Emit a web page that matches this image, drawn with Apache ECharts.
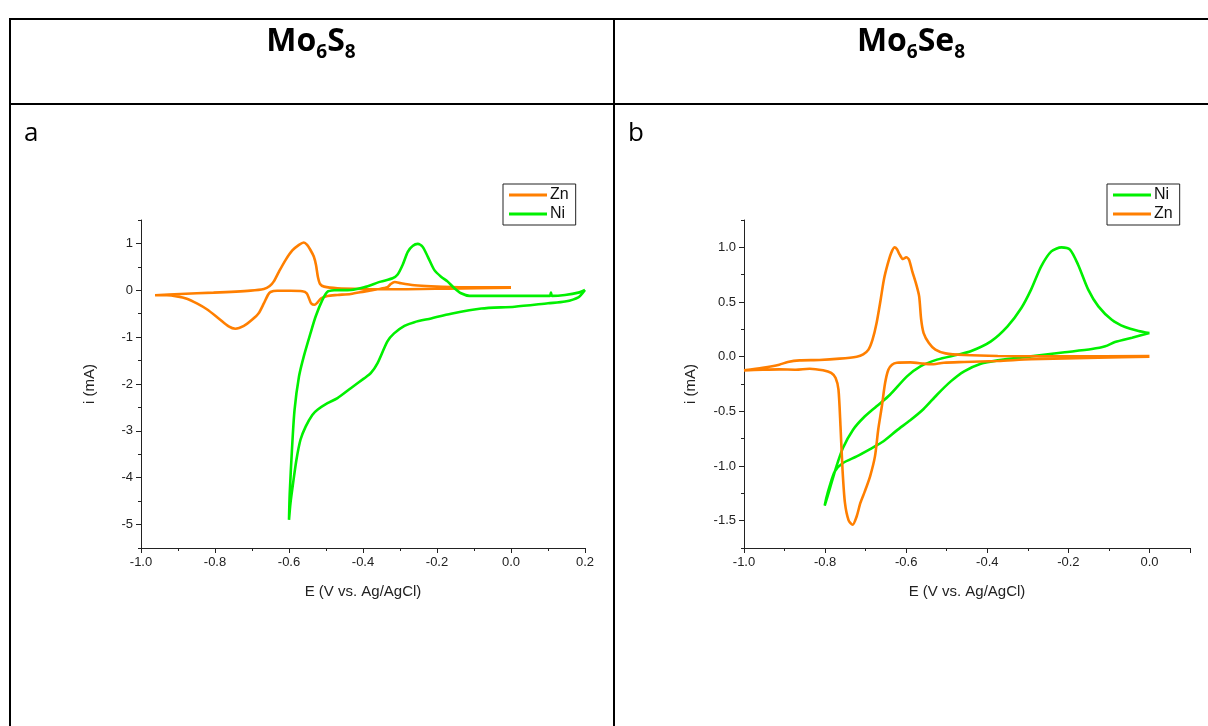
<!DOCTYPE html>
<html><head><meta charset="utf-8">
<script src="https://cdn.jsdelivr.net/npm/echarts@6/dist/echarts.min.js"></script>
<style>html,body{margin:0;padding:0;background:#fff}#c{width:1208px;height:726px}</style>
</head><body><div id="c"></div>
<script>
// Panel a (Mo6S8): [E (V), i (mA)]
const znA = [[0.0,0.064],[-0.126,0.064],[-0.216,0.085],[-0.261,0.107],[-0.297,0.149],[-0.314,0.178],[-0.325,0.135],[-0.334,0.064],[-0.361,0.021],[-0.397,-0.028],[-0.433,-0.078],[-0.469,-0.10],[-0.496,-0.12],[-0.513,-0.17],[-0.523,-0.26],[-0.531,-0.31],[-0.540,-0.28],[-0.546,-0.17],[-0.552,-0.064],[-0.564,-0.02],[-0.596,-0.01],[-0.632,-0.01],[-0.650,-0.036],[-0.657,-0.10],[-0.668,-0.28],[-0.682,-0.49],[-0.700,-0.63],[-0.722,-0.76],[-0.745,-0.82],[-0.763,-0.77],[-0.790,-0.60],[-0.822,-0.405],[-0.849,-0.28],[-0.876,-0.18],[-0.903,-0.13],[-0.930,-0.107],[-0.962,-0.107],
  [-0.894,-0.078],[-0.804,-0.05],[-0.704,-0.007],[-0.668,0.028],[-0.652,0.092],[-0.641,0.19],[-0.627,0.40],[-0.609,0.65],[-0.591,0.85],[-0.573,0.97],[-0.560,1.02],[-0.551,0.97],[-0.542,0.86],[-0.533,0.72],[-0.527,0.54],[-0.522,0.29],[-0.516,0.135],[-0.505,0.078],[-0.469,0.043],[-0.397,0.028],[-0.307,0.021],[-0.171,0.036],[0.0,0.057]];
const niA = [[0.2,0.007],[0.182,-0.15],[0.146,-0.24],[0.1,-0.277],[0.01,-0.35],[-0.08,-0.39],[-0.162,-0.50],[-0.216,-0.60],[-0.261,-0.68],[-0.288,-0.76],[-0.316,-0.92],[-0.334,-1.09],[-0.361,-1.56],[-0.379,-1.77],[-0.397,-1.88],[-0.433,-2.09],[-0.469,-2.30],[-0.496,-2.41],[-0.523,-2.55],[-0.537,-2.66],[-0.555,-2.91],[-0.569,-3.19],[-0.580,-3.62],[-0.589,-4.12],[-0.596,-4.54],[-0.600,-4.90],
  [-0.598,-4.33],[-0.592,-3.40],[-0.585,-2.55],[-0.573,-1.84],[-0.560,-1.41],[-0.542,-0.92],[-0.528,-0.56],[-0.510,-0.21],[-0.496,-0.03],[-0.478,0.0],[-0.433,0.007],[-0.397,0.064],[-0.352,0.185],[-0.320,0.256],[-0.307,0.33],[-0.293,0.54],[-0.279,0.82],[-0.266,0.945],[-0.252,0.99],[-0.239,0.93],[-0.225,0.72],[-0.207,0.43],[-0.189,0.29],[-0.171,0.185],[-0.153,0.043],[-0.135,-0.064],[-0.112,-0.12],[-0.035,-0.12],[0.055,-0.12],[0.105,-0.12],[0.108,-0.05],[0.111,-0.12],[0.146,-0.10],[0.182,-0.05],[0.2,0.007]];
// Panel b (Mo6Se8)
const niB = [[0.0,0.216],[-0.043,0.174],[-0.085,0.134],[-0.109,0.095],[-0.142,0.070],[-0.209,0.040],[-0.292,0.003],[-0.374,-0.034],[-0.416,-0.064],[-0.457,-0.134],[-0.490,-0.226],[-0.524,-0.348],[-0.557,-0.479],[-0.590,-0.582],[-0.623,-0.674],[-0.656,-0.774],[-0.689,-0.845],[-0.722,-0.912],[-0.756,-0.973],[-0.776,-1.049],[-0.789,-1.186],[-0.797,-1.293],[-0.801,-1.363],
  [-0.789,-1.216],[-0.772,-1.003],[-0.756,-0.835],[-0.731,-0.668],[-0.706,-0.561],[-0.673,-0.454],[-0.640,-0.348],[-0.598,-0.180],[-0.565,-0.088],[-0.524,-0.027],[-0.474,0.018],[-0.441,0.049],[-0.391,0.140],[-0.350,0.277],[-0.316,0.445],[-0.292,0.613],[-0.267,0.826],[-0.242,0.963],[-0.217,1.0],[-0.196,0.979],[-0.176,0.841],[-0.151,0.613],[-0.126,0.460],[-0.093,0.338],[-0.060,0.271],[-0.027,0.235],[0.0,0.216]];
const znB = [[0.0,0.0],[-0.126,-0.009],[-0.292,-0.024],[-0.374,-0.040],[-0.457,-0.049],[-0.507,-0.055],[-0.540,-0.070],[-0.557,-0.064],[-0.590,-0.052],[-0.623,-0.055],[-0.635,-0.073],[-0.644,-0.119],[-0.652,-0.241],[-0.660,-0.454],[-0.669,-0.668],[-0.677,-0.912],[-0.689,-1.094],[-0.702,-1.232],[-0.713,-1.338],[-0.722,-1.460],[-0.732,-1.537],[-0.742,-1.497],[-0.751,-1.338],[-0.757,-1.034],[-0.762,-0.637],[-0.767,-0.302],[-0.774,-0.195],[-0.785,-0.149],[-0.805,-0.125],[-0.838,-0.110],[-0.872,-0.119],[-0.913,-0.116],[-0.954,-0.119],[-1.0,-0.125],
  [-0.954,-0.101],[-0.913,-0.073],[-0.892,-0.049],[-0.863,-0.034],[-0.814,-0.030],[-0.764,-0.018],[-0.722,0.0],[-0.706,0.021],[-0.693,0.064],[-0.683,0.155],[-0.673,0.308],[-0.663,0.521],[-0.655,0.704],[-0.646,0.841],[-0.637,0.948],[-0.629,1.0],[-0.623,0.985],[-0.616,0.933],[-0.608,0.893],[-0.600,0.909],[-0.593,0.887],[-0.585,0.780],[-0.575,0.659],[-0.568,0.552],[-0.563,0.338],[-0.557,0.216],[-0.544,0.125],[-0.528,0.064],[-0.503,0.030],[-0.457,0.015],[-0.374,0.006],[-0.209,0.003],[0.0,0.006]];

const yMajorA = [-5,-4,-3,-2,-1,0,1];
const yMajorB = [-1.5,-1.0,-0.5,0,0.5,1.0];
const legendA = ['Zn','Ni'];
const legendB = ['Ni','Zn'];

const ORANGE = '#FF7F00', GREEN = '#00F000';
const FONT = 'Liberation Sans';
const chart = echarts.init(document.getElementById('c'), null, {renderer:'canvas'});

function xAxis(grid, max, showMax){
  return {gridIndex:grid, type:'value', min:-1, max:max, interval:0.2,
    axisLine:{onZero:false, lineStyle:{color:'#222', width:1}},
    axisTick:{show:true, length:5, lineStyle:{color:'#222'}},
    minorTick:{show:true, splitNumber:2, length:3, lineStyle:{color:'#222'}},
    splitLine:{show:false},
    axisLabel:{formatter:v=>v.toFixed(1), showMaxLabel:showMax, fontSize:13, fontFamily:FONT, color:'#222', margin:8},
    name:'E (V vs. Ag/AgCl)', nameLocation:'middle', nameGap:36,
    nameTextStyle:{fontSize:15, fontFamily:FONT, color:'#222'}};
}
function yAxisMain(grid, min, max, majors, fmt, gap){
  return {gridIndex:grid, type:'value', position:'left', min:min, max:max,
    axisLine:{show:true, onZero:false, lineStyle:{color:'#222', width:1}},
    axisTick:{show:true, length:5, customValues:majors, lineStyle:{color:'#222'}},
    splitLine:{show:false},
    axisLabel:{customValues:majors, formatter:fmt, fontSize:13, fontFamily:FONT, color:'#222', margin:8},
    name:'i (mA)', nameLocation:'middle', nameGap:gap, nameRotate:90,
    nameTextStyle:{fontSize:15, fontFamily:FONT, color:'#222'}};
}
function yAxisMinor(grid, min, max, step){
  return {gridIndex:grid, type:'value', position:'left', offset:0, min:min, max:max, interval:step,
    axisLine:{show:false, onZero:false}, axisTick:{show:true, length:3, lineStyle:{color:'#222'}},
    axisLabel:{show:false}, splitLine:{show:false}};
}
function legend(left, data){
  return {left:left, top:184, orient:'vertical', data:data, icon:'rect', itemWidth:38, itemHeight:3,
    itemGap:3, padding:[3,7,3,6], borderColor:'#222', borderWidth:1, backgroundColor:'#fff', selectedMode:false,
    textStyle:{fontSize:16, fontFamily:FONT, color:'#111', padding:[0,0,0,-2]}};
}
function ser(name, data, xi, yi, color){
  return {name:name, type:'line', data:data, xAxisIndex:xi, yAxisIndex:yi, showSymbol:false, smooth:0.25,
    lineStyle:{color:color, width:2.6}, itemStyle:{color:color}, z:3};
}
function title(x, parts){
  return {type:'text', x:x, y:42, style:{text:parts, textAlign:'center', textVerticalAlign:'middle',
    rich:{b:{fontSize:32, fontWeight:'bold', fontFamily:'Open Sans', fill:'#000', lineHeight:40},
          s:{fontSize:19, fontWeight:'bold', fontFamily:'Open Sans', fill:'#000', lineHeight:19, verticalAlign:'bottom'}}}};
}
const L = {stroke:'#000', lineWidth:2};
chart.setOption({
  animation:false,
  backgroundColor:'#fff',
  grid:[{left:141, top:220, width:444, height:328}, {left:744, top:220, width:446, height:328}],
  xAxis:[xAxis(0,0.2,true), xAxis(1,0.1,false)],
  yAxis:[yAxisMain(0,-5.5,1.5,yMajorA,v=>String(Math.round(v)),44), yAxisMinor(0,-5.5,1.5,0.5),
         yAxisMain(1,-1.75,1.25,yMajorB,v=>v.toFixed(1),46), yAxisMinor(1,-1.75,1.25,0.25)],
  legend:[legend(503, legendA), legend(1107, legendB)],
  series:[ser('Zn', znA, 0, 0, ORANGE), ser('Ni', niA, 0, 0, GREEN),
          ser('Ni', niB, 1, 2, GREEN), ser('Zn', znB, 1, 2, ORANGE)],
  graphic:[
    {type:'line', shape:{x1:9, y1:19, x2:1208, y2:19}, style:L},
    {type:'line', shape:{x1:9, y1:104, x2:1208, y2:104}, style:L},
    {type:'line', shape:{x1:10, y1:18, x2:10, y2:726}, style:L},
    {type:'line', shape:{x1:614, y1:18, x2:614, y2:726}, style:L},
    title(311, '{b|Mo}{s|6}{b|S}{s|8}'),
    title(911, '{b|Mo}{s|6}{b|Se}{s|8}'),
    {type:'text', x:24, y:134, style:{text:'a', fontSize:26, fontFamily:'Open Sans', fill:'#000', textVerticalAlign:'middle'}},
    {type:'text', x:628, y:134, style:{text:'b', fontSize:26, fontFamily:'Open Sans', fill:'#000', textVerticalAlign:'middle'}}
  ]
});
</script></body></html>
